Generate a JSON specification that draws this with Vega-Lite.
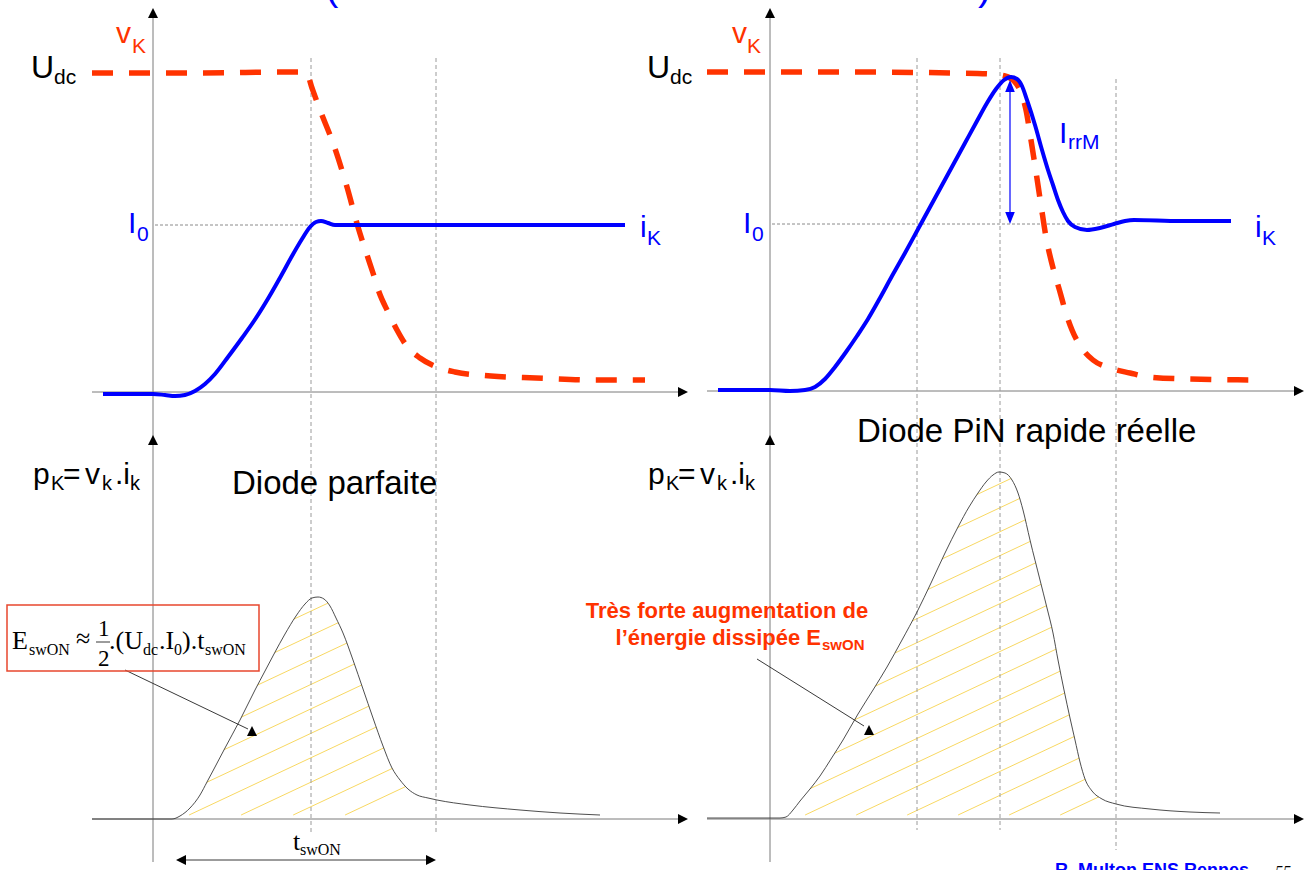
{
"$schema": "https://vega.github.io/schema/vega-lite/v6.json",
"width": 1310, "height": 870, "padding": 0, "autosize": {"type": "none"},
"background": "white",
"config": {"view": {"stroke": null}},
"datasets": {
 "power": [
  {"s":"L","x":92,"y":819},{"s":"L","x":150,"y":819},{"s":"L","x":172,"y":819},{"s":"L","x":180,"y":816},{"s":"L","x":190,"y":808},{"s":"L","x":200,"y":795},{"s":"L","x":207,"y":782},{"s":"L","x":215,"y":767},{"s":"L","x":225,"y":748},{"s":"L","x":240,"y":720},{"s":"L","x":255,"y":690},{"s":"L","x":265,"y":671},{"s":"L","x":274,"y":654},{"s":"L","x":285,"y":634},{"s":"L","x":296,"y":616},{"s":"L","x":305,"y":604},{"s":"L","x":312,"y":598},{"s":"L","x":318,"y":597},{"s":"L","x":324,"y":599},{"s":"L","x":330,"y":606},{"s":"L","x":336,"y":618},{"s":"L","x":343,"y":633},{"s":"L","x":353,"y":660},{"s":"L","x":363,"y":689},{"s":"L","x":373,"y":718},{"s":"L","x":383,"y":746},{"s":"L","x":392,"y":768},{"s":"L","x":400,"y":780},{"s":"L","x":408,"y":789},{"s":"L","x":417,"y":795},{"s":"L","x":428,"y":798},{"s":"L","x":437,"y":800},{"s":"L","x":470,"y":805},{"s":"L","x":520,"y":810},{"s":"L","x":560,"y":813},{"s":"L","x":600,"y":815},
  {"s":"R","x":707,"y":818},{"s":"R","x":760,"y":818},{"s":"R","x":780,"y":818},{"s":"R","x":786,"y":817},{"s":"R","x":793,"y":810},{"s":"R","x":800,"y":801},{"s":"R","x":810,"y":789},{"s":"R","x":820,"y":776},{"s":"R","x":831,"y":759},{"s":"R","x":843,"y":740},{"s":"R","x":858,"y":714},{"s":"R","x":873,"y":690},{"s":"R","x":887,"y":667},{"s":"R","x":902,"y":640},{"s":"R","x":917,"y":612},{"s":"R","x":931,"y":583},{"s":"R","x":945,"y":553},{"s":"R","x":958,"y":527},{"s":"R","x":969,"y":507},{"s":"R","x":978,"y":493},{"s":"R","x":986,"y":482},{"s":"R","x":993,"y":475},{"s":"R","x":999,"y":472},{"s":"R","x":1005,"y":473},{"s":"R","x":1012,"y":480},{"s":"R","x":1018,"y":493},{"s":"R","x":1023,"y":510},{"s":"R","x":1030,"y":540},{"s":"R","x":1040,"y":580},{"s":"R","x":1047,"y":608},{"s":"R","x":1053,"y":633},{"s":"R","x":1058,"y":660},{"s":"R","x":1064,"y":690},{"s":"R","x":1070,"y":718},{"s":"R","x":1075,"y":740},{"s":"R","x":1080,"y":762},{"s":"R","x":1085,"y":779},{"s":"R","x":1092,"y":791},{"s":"R","x":1102,"y":799},{"s":"R","x":1116,"y":804},{"s":"R","x":1150,"y":809},{"s":"R","x":1190,"y":812},{"s":"R","x":1220,"y":813}
 ]
},
"encoding": {
 "x": {"field": "x", "type": "quantitative", "scale": {"domain": [0, 1310], "nice": false, "zero": false}, "axis": null},
 "y": {"field": "y", "type": "quantitative", "scale": {"domain": [0, 870], "nice": false, "zero": false, "reverse": true}, "axis": null}
},
"layer": [
 {"data": {"values": [
  {"x":175,"y":675.0,"x2":366.5,"y2":585},{"x":175,"y":699.4,"x2":410,"y2":589.0},{"x":175,"y":723.9,"x2":410,"y2":613.4},{"x":175,"y":748.3,"x2":410,"y2":637.9},{"x":175,"y":772.8,"x2":410,"y2":662.3},{"x":175,"y":797.2,"x2":410,"y2":686.8},{"x":189.1,"y":815,"x2":410,"y2":711.2},{"x":241.1,"y":815,"x2":410,"y2":735.6},{"x":293.2,"y":815,"x2":410,"y2":760.1},{"x":345.1,"y":815,"x2":410,"y2":784.5},
  {"x":792,"y":581.5,"x2":1012.1,"y2":478},{"x":792,"y":605.5,"x2":1063.2,"y2":478},{"x":792,"y":629.5,"x2":1100,"y2":484.7},{"x":792,"y":653.4,"x2":1100,"y2":508.6},{"x":792,"y":677.4,"x2":1100,"y2":532.6},{"x":792,"y":701.4,"x2":1100,"y2":556.6},{"x":792,"y":725.3,"x2":1100,"y2":580.5},{"x":792,"y":749.3,"x2":1100,"y2":604.5},{"x":792,"y":773.3,"x2":1100,"y2":628.5},{"x":792,"y":797.2,"x2":1100,"y2":652.4},{"x":805.1,"y":815,"x2":1100,"y2":676.4},{"x":856.2,"y":815,"x2":1100,"y2":700.4},{"x":907.2,"y":815,"x2":1100,"y2":724.4},{"x":958.1,"y":815,"x2":1100,"y2":748.3},{"x":1009.1,"y":815,"x2":1100,"y2":772.3},{"x":1060.2,"y":815,"x2":1100,"y2":796.3}
 ]}, "mark": {"type": "rule", "color": "#F8D862", "strokeWidth": 1}, "encoding": {"x2": {"field": "x2"}, "y2": {"field": "y2"}}},
 {"data": {"name": "power"}, "transform": [{"filter": "datum.s == 'L' && datum.x >= 170 && datum.x <= 420"}], "mark": {"type": "area", "color": "white", "opacity": 1, "interpolate": "monotone"}, "encoding": {"y2": {"datum": 580}}},
 {"data": {"name": "power"}, "transform": [{"filter": "datum.s == 'R' && datum.x >= 785 && datum.x <= 1105"}], "mark": {"type": "area", "color": "white", "opacity": 1, "interpolate": "monotone"}, "encoding": {"y2": {"datum": 470}}},
 {"data": {"values": [
  {"x":153,"y":10,"x2":153,"y2":862},{"x":770,"y":10,"x2":770,"y2":862},
  {"x":92,"y":392,"x2":684,"y2":392},{"x":92,"y":819,"x2":684,"y2":819},
  {"x":707,"y":391,"x2":1299,"y2":391},{"x":707,"y":819,"x2":1299,"y2":819}
 ]}, "mark": {"type": "rule", "color": "#7a7a7a", "strokeWidth": 1}, "encoding": {"x2": {"field": "x2"}, "y2": {"field": "y2"}}},
 {"data": {"values": [
  {"x":311,"y":58,"x2":311,"y2":832},{"x":436,"y":58,"x2":436,"y2":832},
  {"x":917,"y":58,"x2":917,"y2":830},{"x":1000,"y":58,"x2":1000,"y2":830},{"x":1116,"y":79,"x2":1116,"y2":850}
 ]}, "mark": {"type": "rule", "color": "#9a9a9a", "strokeWidth": 1, "strokeDash": [4, 3]}, "encoding": {"x2": {"field": "x2"}, "y2": {"field": "y2"}}},
 {"data": {"values": [
  {"x":155,"y":225,"x2":311,"y2":225},{"x":772,"y":224,"x2":1116,"y2":224}
 ]}, "mark": {"type": "rule", "color": "#8a8a8a", "strokeWidth": 1, "strokeDash": [3, 2]}, "encoding": {"x2": {"field": "x2"}, "y2": {"field": "y2"}}},
 {"data": {"name": "power"}, "mark": {"type": "line", "color": "#3a3a3a", "strokeWidth": 0.9, "interpolate": "monotone"}, "encoding": {"detail": {"field": "s"}}},
 {"data": {"values": [
  {"s":"L","x":92,"y":73},{"s":"L","x":200,"y":73},{"s":"L","x":290,"y":72},{"s":"L","x":300,"y":72},{"s":"L","x":307,"y":74},{"s":"L","x":312,"y":88},{"s":"L","x":320,"y":110},{"s":"L","x":333,"y":143},{"s":"L","x":347,"y":187},{"s":"L","x":358,"y":227},{"s":"L","x":367,"y":255},{"s":"L","x":373,"y":273},{"s":"L","x":379,"y":292},{"s":"L","x":388,"y":312},{"s":"L","x":397,"y":330},{"s":"L","x":406,"y":345},{"s":"L","x":420,"y":358},{"s":"L","x":437,"y":367},{"s":"L","x":455,"y":372},{"s":"L","x":491,"y":376},{"s":"L","x":536,"y":378},{"s":"L","x":594,"y":380},{"s":"L","x":645,"y":380},
  {"s":"R","x":707,"y":72},{"s":"R","x":850,"y":72},{"s":"R","x":950,"y":73},{"s":"R","x":990,"y":74},{"s":"R","x":1005,"y":76},{"s":"R","x":1014,"y":81},{"s":"R","x":1020,"y":90},{"s":"R","x":1026,"y":110},{"s":"R","x":1031,"y":140},{"s":"R","x":1036,"y":172},{"s":"R","x":1041,"y":205},{"s":"R","x":1046,"y":237},{"s":"R","x":1051,"y":260},{"s":"R","x":1055,"y":275},{"s":"R","x":1060,"y":292},{"s":"R","x":1065,"y":310},{"s":"R","x":1072,"y":330},{"s":"R","x":1081,"y":347},{"s":"R","x":1093,"y":360},{"s":"R","x":1110,"y":368},{"s":"R","x":1130,"y":373},{"s":"R","x":1149,"y":377},{"s":"R","x":1188,"y":379},{"s":"R","x":1262,"y":380}
 ]}, "mark": {"type": "line", "color": "#FF3300", "strokeWidth": 5.5, "strokeDash": [21, 16], "interpolate": "monotone"}, "encoding": {"detail": {"field": "s"}}},
 {"data": {"values": [
  {"s":"L","x":103,"y":394},{"s":"L","x":153,"y":394},{"s":"L","x":165,"y":395},{"s":"L","x":175,"y":396},{"s":"L","x":185,"y":395},{"s":"L","x":195,"y":391},{"s":"L","x":205,"y":384},{"s":"L","x":215,"y":374},{"s":"L","x":228,"y":357},{"s":"L","x":242,"y":338},{"s":"L","x":256,"y":318},{"s":"L","x":269,"y":297},{"s":"L","x":281,"y":276},{"s":"L","x":292,"y":256},{"s":"L","x":302,"y":239},{"s":"L","x":310,"y":227},{"s":"L","x":316,"y":222},{"s":"L","x":321,"y":221},{"s":"L","x":328,"y":223},{"s":"L","x":335,"y":225},{"s":"L","x":420,"y":225},{"s":"L","x":520,"y":225},{"s":"L","x":625,"y":225},
  {"s":"R","x":718,"y":390},{"s":"R","x":770,"y":390},{"s":"R","x":790,"y":391},{"s":"R","x":805,"y":390},{"s":"R","x":815,"y":387},{"s":"R","x":825,"y":379},{"s":"R","x":835,"y":367},{"s":"R","x":846,"y":352},{"s":"R","x":857,"y":336},{"s":"R","x":868,"y":319},{"s":"R","x":880,"y":298},{"s":"R","x":892,"y":276},{"s":"R","x":905,"y":253},{"s":"R","x":917,"y":231},{"s":"R","x":929,"y":209},{"s":"R","x":941,"y":187},{"s":"R","x":953,"y":165},{"s":"R","x":965,"y":143},{"s":"R","x":977,"y":121},{"s":"R","x":987,"y":103},{"s":"R","x":996,"y":89},{"s":"R","x":1004,"y":80},{"s":"R","x":1011,"y":77},{"s":"R","x":1017,"y":79},{"s":"R","x":1022,"y":86},{"s":"R","x":1027,"y":100},{"s":"R","x":1035,"y":125},{"s":"R","x":1042,"y":150},{"s":"R","x":1048,"y":170},{"s":"R","x":1053,"y":185},{"s":"R","x":1058,"y":200},{"s":"R","x":1063,"y":212},{"s":"R","x":1068,"y":221},{"s":"R","x":1075,"y":227},{"s":"R","x":1087,"y":230},{"s":"R","x":1100,"y":228},{"s":"R","x":1114,"y":224},{"s":"R","x":1125,"y":221},{"s":"R","x":1134,"y":220},{"s":"R","x":1180,"y":221},{"s":"R","x":1231,"y":221}
 ]}, "mark": {"type": "line", "color": "#0000FF", "strokeWidth": 4, "interpolate": "monotone"}, "encoding": {"detail": {"field": "s"}}},
 {"data": {"values": [{"x":1010,"y":88,"x2":1010,"y2":216}]}, "mark": {"type": "rule", "color": "#0000FF", "strokeWidth": 1.2}, "encoding": {"x2": {"field": "x2"}, "y2": {"field": "y2"}}},
 {"data": {"values": [
  {"x":125,"y":670,"x2":248,"y2":729},{"x":757,"y":659,"x2":864,"y2":726},
  {"x":180,"y":860,"x2":432,"y2":860},{"x":96,"y":642,"x2":110,"y2":642}
 ]}, "mark": {"type": "rule", "color": "#222222", "strokeWidth": 0.9}, "encoding": {"x2": {"field": "x2"}, "y2": {"field": "y2"}}},
 {"data": {"values": [{"x":7,"y":605,"x2":259,"y2":671}]}, "mark": {"type": "rect", "fill": null, "fillOpacity": 0, "stroke": "#E8472E", "strokeWidth": 1.5}, "encoding": {"x2": {"field": "x2"}, "y2": {"field": "y2"}}},
 {"data": {"values": [{"x":153,"y":13},{"x":153,"y":440},{"x":770,"y":13},{"x":770,"y":440},{"x":252,"y":731},{"x":869,"y":730}]}, "mark": {"type": "point", "shape": "M0,-1L-1,1L1,1Z", "filled": true, "color": "black", "opacity": 1, "size": 100, "strokeWidth": 0}},
 {"data": {"values": [{"x":683,"y":392},{"x":683,"y":819},{"x":1299,"y":391},{"x":1299,"y":819},{"x":431,"y":860}]}, "mark": {"type": "point", "shape": "M1,0L-1,-1L-1,1Z", "filled": true, "color": "black", "opacity": 1, "size": 100, "strokeWidth": 0}},
 {"data": {"values": [{"x":181,"y":860}]}, "mark": {"type": "point", "shape": "M-1,0L1,-1L1,1Z", "filled": true, "color": "black", "opacity": 1, "size": 100, "strokeWidth": 0}},
 {"data": {"values": [{"x":1010,"y":86}]}, "mark": {"type": "point", "shape": "M0,-1L-0.8,1L0.8,1Z", "filled": true, "color": "#0000FF", "opacity": 1, "size": 144, "strokeWidth": 0}},
 {"data": {"values": [{"x":1010,"y":218}]}, "mark": {"type": "point", "shape": "M0,1L-0.8,-1L0.8,-1Z", "filled": true, "color": "#0000FF", "opacity": 1, "size": 144, "strokeWidth": 0}},
 {"data": {"values": [{"x":31,"y":78,"t":"U"},{"x":647,"y":78,"t":"U"}]}, "mark": {"type": "text", "align": "left", "baseline": "alphabetic", "font": "Liberation Sans", "fontSize": 32, "color": "black"}, "encoding": {"text": {"field": "t"}}},
 {"data": {"values": [{"x":54,"y":84,"t":"dc"},{"x":670,"y":84,"t":"dc"}]}, "mark": {"type": "text", "align": "left", "baseline": "alphabetic", "font": "Liberation Sans", "fontSize": 21, "color": "black"}, "encoding": {"text": {"field": "t"}}},
 {"data": {"values": [{"x":116,"y":43,"t":"v"},{"x":732,"y":43,"t":"v"}]}, "mark": {"type": "text", "align": "left", "baseline": "alphabetic", "font": "Liberation Sans", "fontSize": 30, "color": "#FF3300"}, "encoding": {"text": {"field": "t"}}},
 {"data": {"values": [{"x":132,"y":53,"t":"K"},{"x":747,"y":53,"t":"K"}]}, "mark": {"type": "text", "align": "left", "baseline": "alphabetic", "font": "Liberation Sans", "fontSize": 21, "color": "#FF3300"}, "encoding": {"text": {"field": "t"}}},
 {"data": {"values": [{"x":128,"y":233,"t":"I"},{"x":743,"y":233,"t":"I"},{"x":640,"y":237,"t":"i"},{"x":1255,"y":237,"t":"i"},{"x":1059,"y":143,"t":"I"}]}, "mark": {"type": "text", "align": "left", "baseline": "alphabetic", "font": "Liberation Sans", "fontSize": 30, "color": "#0000FF"}, "encoding": {"text": {"field": "t"}}},
 {"data": {"values": [{"x":137,"y":241,"t":"0"},{"x":752,"y":241,"t":"0"},{"x":647,"y":245,"t":"K"},{"x":1262,"y":245,"t":"K"},{"x":1068,"y":149,"t":"rrM"}]}, "mark": {"type": "text", "align": "left", "baseline": "alphabetic", "font": "Liberation Sans", "fontSize": 21, "color": "#0000FF"}, "encoding": {"text": {"field": "t"}}},
 {"data": {"values": [{"x":33,"y":484,"t":"p"},{"x":63,"y":484,"t":"="},{"x":85,"y":484,"t":"v"},{"x":115,"y":484,"t":".i"},{"x":648,"y":484,"t":"p"},{"x":678,"y":484,"t":"="},{"x":700,"y":484,"t":"v"},{"x":730,"y":484,"t":".i"}]}, "mark": {"type": "text", "align": "left", "baseline": "alphabetic", "font": "Liberation Sans", "fontSize": 30, "color": "black"}, "encoding": {"text": {"field": "t"}}},
 {"data": {"values": [{"x":51,"y":490,"t":"K"},{"x":102,"y":490,"t":"k"},{"x":130,"y":490,"t":"k"},{"x":666,"y":490,"t":"K"},{"x":717,"y":490,"t":"k"},{"x":745,"y":490,"t":"k"}]}, "mark": {"type": "text", "align": "left", "baseline": "alphabetic", "font": "Liberation Sans", "fontSize": 20, "color": "black"}, "encoding": {"text": {"field": "t"}}},
 {"data": {"values": [{"x":232,"y":494,"t":"Diode parfaite"},{"x":857,"y":442,"t":"Diode PiN rapide réelle"}]}, "mark": {"type": "text", "align": "left", "baseline": "alphabetic", "font": "Liberation Sans", "fontSize": 33, "color": "black"}, "encoding": {"text": {"field": "t"}}},
 {"data": {"values": [{"x":12,"y":649,"t":"E"},{"x":76,"y":647,"t":"≈"},{"x":109,"y":649,"t":".(U"},{"x":159,"y":649,"t":".I"},{"x":182,"y":649,"t":").t"},{"x":293,"y":850,"t":"t"}]}, "mark": {"type": "text", "align": "left", "baseline": "alphabetic", "font": "Liberation Serif", "fontSize": 26, "color": "black"}, "encoding": {"text": {"field": "t"}}},
 {"data": {"values": [{"x":29,"y":655,"t":"swON"},{"x":143,"y":655,"t":"dc"},{"x":174,"y":655,"t":"0"},{"x":205,"y":655,"t":"swON"},{"x":300,"y":855,"t":"swON"}]}, "mark": {"type": "text", "align": "left", "baseline": "alphabetic", "font": "Liberation Serif", "fontSize": 16, "color": "black"}, "encoding": {"text": {"field": "t"}}},
 {"data": {"values": [{"x":98,"y":636,"t":"1"},{"x":98,"y":666,"t":"2"}]}, "mark": {"type": "text", "align": "left", "baseline": "alphabetic", "font": "Liberation Serif", "fontSize": 23, "color": "black"}, "encoding": {"text": {"field": "t"}}},
 {"data": {"values": [{"x":727,"y":618,"t":"Très forte augmentation de"}]}, "mark": {"type": "text", "align": "center", "baseline": "alphabetic", "font": "Liberation Sans", "fontSize": 22, "fontWeight": "bold", "color": "#FF3300"}, "encoding": {"text": {"field": "t"}}},
 {"data": {"values": [{"x":821,"y":645,"t":"l’énergie dissipée E"}]}, "mark": {"type": "text", "align": "right", "baseline": "alphabetic", "font": "Liberation Sans", "fontSize": 22, "fontWeight": "bold", "color": "#FF3300"}, "encoding": {"text": {"field": "t"}}},
 {"data": {"values": [{"x":822,"y":650,"t":"swON"}]}, "mark": {"type": "text", "align": "left", "baseline": "alphabetic", "font": "Liberation Sans", "fontSize": 15, "fontWeight": "bold", "color": "#FF3300"}, "encoding": {"text": {"field": "t"}}},
 {"data": {"values": [{"x":1055,"y":876,"t":"R. Multon ENS Rennes"}]}, "mark": {"type": "text", "align": "left", "baseline": "alphabetic", "font": "Liberation Sans", "fontSize": 18, "fontWeight": "bold", "color": "#0000FF"}, "encoding": {"text": {"field": "t"}}},
 {"data": {"values": [{"x":1275,"y":877,"t":"55"}]}, "mark": {"type": "text", "align": "left", "baseline": "alphabetic", "font": "Liberation Serif", "fontSize": 16, "fontStyle": "italic", "color": "black"}, "encoding": {"text": {"field": "t"}}},
 {"data": {"values": [{"x":325,"y":0,"t":"("},{"x":978,"y":0,"t":")"}]}, "mark": {"type": "text", "align": "left", "baseline": "alphabetic", "font": "Liberation Sans", "fontSize": 40, "color": "#0000FF"}, "encoding": {"text": {"field": "t"}}}
]
}
